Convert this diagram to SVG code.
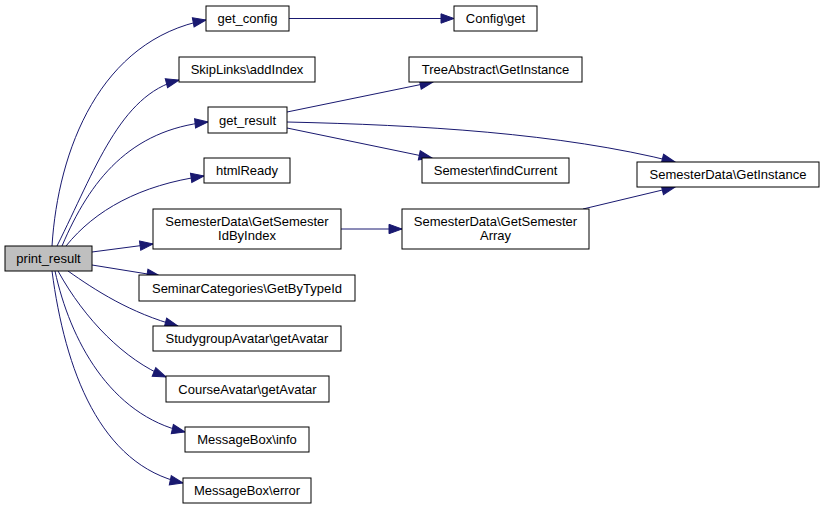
<svg xmlns="http://www.w3.org/2000/svg" width="824" height="509" viewBox="0 0 824 509">
<style>
.n rect{fill:#fff;stroke:#000;stroke-width:1}
.n.root rect{fill:#bfbfbf}
.n text{font-family:"Liberation Sans",Arial,sans-serif;font-size:13px;text-anchor:middle;fill:#000}
.e path{fill:none;stroke:#191970;stroke-width:1;marker-end:url(#a)}
</style>
<defs>
<marker id="a" markerUnits="userSpaceOnUse" markerWidth="14" markerHeight="10" refX="13" refY="4.7" orient="auto" overflow="visible">
<path d="M0,0 L13,4.7 L0,9.4 z" fill="#191970" stroke="#191970" stroke-width="1"/>
</marker>
</defs>
<rect width="824" height="509" fill="#fff"/>
<g id="edges" class="e">
<path d="M52,246 C58,150 100,40 206,20"/>
<path d="M57,246 C95,170 120,95 179,80"/>
<path d="M62,246 C90,180 130,130 208,122"/>
<path d="M66,246 C95,210 140,185 204,176"/>
<path d="M92,252 L153,244"/>
<path d="M92,265 L160,276"/>
<path d="M68,271 C95,290 130,313 178,326"/>
<path d="M58,271 C85,320 125,360 166,377"/>
<path d="M55,271 C70,340 110,415 185,432"/>
<path d="M52,271 C65,370 100,465 183,483"/>
<path d="M289,18.5 L454,18.5"/>
<path d="M287,112 L433,82"/>
<path d="M287,122 C420,125 560,133 675,162"/>
<path d="M287,128 L432,158"/>
<path d="M341,229 L402,229"/>
<path d="M583,209 L675,187"/>
</g>
<g id="print_result" class="n root"><rect x="5" y="246" width="87" height="25"/><text x="48.5" y="263">print_result</text></g>
<g id="get_config" class="n"><rect x="206" y="6" width="83" height="25"/><text x="247.5" y="23">get_config</text></g>
<g id="skiplinks_addindex" class="n"><rect x="179" y="57" width="136" height="25"/><text x="247" y="74">SkipLinks\addIndex</text></g>
<g id="get_result" class="n"><rect x="208" y="107" width="79" height="26"/><text x="247.5" y="124.5">get_result</text></g>
<g id="htmlready" class="n"><rect x="204" y="158" width="86" height="25"/><text x="247" y="175">htmlReady</text></g>
<g id="getsemesteridbyindex" class="n"><rect x="153" y="209" width="188" height="40"/><text x="247" y="225.5">SemesterData\GetSemester</text><text x="247" y="240">IdByIndex</text></g>
<g id="seminarcategories" class="n"><rect x="139" y="275" width="216" height="26"/><text x="247" y="292.5">SeminarCategories\GetByTypeId</text></g>
<g id="studygroupavatar" class="n"><rect x="153" y="326" width="188" height="25"/><text x="247" y="343">StudygroupAvatar\getAvatar</text></g>
<g id="courseavatar" class="n"><rect x="166" y="376" width="163" height="26"/><text x="247.5" y="393.5">CourseAvatar\getAvatar</text></g>
<g id="messagebox_info" class="n"><rect x="185" y="427" width="124" height="25"/><text x="247" y="444">MessageBox\info</text></g>
<g id="messagebox_error" class="n"><rect x="183" y="478" width="128" height="25"/><text x="247" y="495">MessageBox\error</text></g>
<g id="config_get" class="n"><rect x="454" y="6" width="83" height="25"/><text x="495.5" y="23">Config\get</text></g>
<g id="treeabstract" class="n"><rect x="409" y="57" width="173" height="25"/><text x="495.5" y="74">TreeAbstract\GetInstance</text></g>
<g id="semester_findcurrent" class="n"><rect x="422" y="158" width="147" height="25"/><text x="495.5" y="175">Semester\findCurrent</text></g>
<g id="getsemesterarray" class="n"><rect x="402" y="209" width="187" height="40"/><text x="495.5" y="225.5">SemesterData\GetSemester</text><text x="495.5" y="240">Array</text></g>
<g id="semesterdata_getinstance" class="n"><rect x="637" y="162" width="182" height="25"/><text x="728" y="179">SemesterData\GetInstance</text></g>
</svg>
